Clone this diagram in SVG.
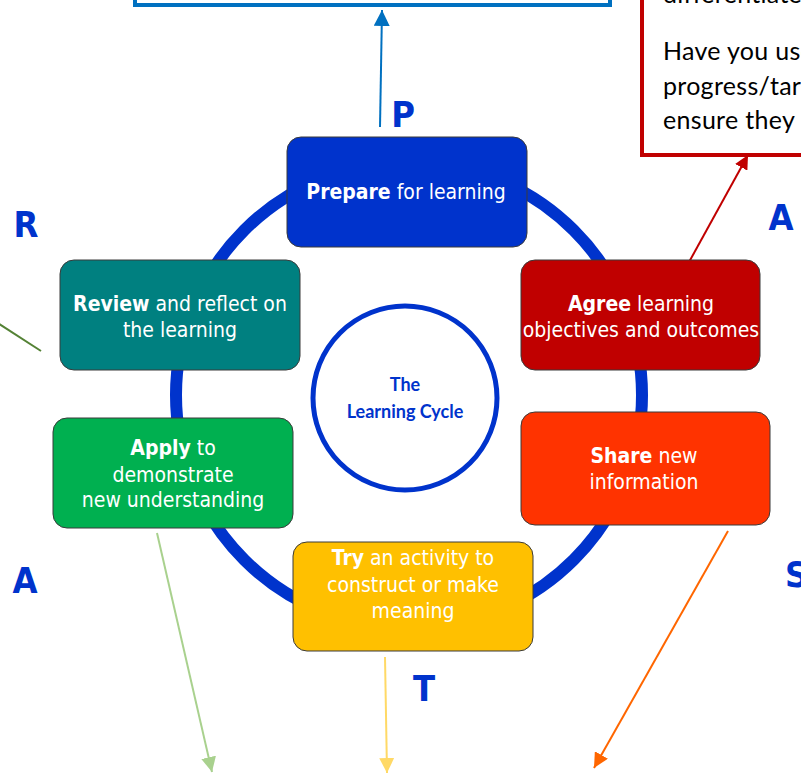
<svg xmlns="http://www.w3.org/2000/svg" width="801" height="773" viewBox="0 0 801 773">
<style>
.node{stroke:#3a3a3a;stroke-width:1}
.nt{font-family:"DejaVu Sans Condensed","DejaVu Sans",sans-serif;font-size:21px;fill:#ffffff;text-anchor:middle}
.b{font-weight:bold}
.let{font-family:"DejaVu Sans Condensed","DejaVu Sans",sans-serif;font-size:36px;font-weight:bold;fill:#0033CC}
.note{font-family:Lato,"Liberation Sans",sans-serif;font-size:25px;letter-spacing:0.3px;fill:#000000}
.ctr{font-family:Lato,"Liberation Sans",sans-serif;font-size:18px;font-weight:bold;fill:#0033CC;text-anchor:middle}
</style>
<defs>
<marker id="ab" viewBox="0 0 10 10" refX="10" refY="5" markerWidth="16" markerHeight="16" markerUnits="userSpaceOnUse" orient="auto"><path d="M0,0 L10,5 L0,10 z" fill="#0070C0"/></marker>
<marker id="ar" viewBox="0 0 10 10" refX="10" refY="5" markerWidth="14" markerHeight="14" markerUnits="userSpaceOnUse" orient="auto"><path d="M0,0 L10,5 L0,10 z" fill="#C00000"/></marker>
<marker id="ag" viewBox="0 0 10 10" refX="10" refY="5" markerWidth="15" markerHeight="15" markerUnits="userSpaceOnUse" orient="auto"><path d="M0,0 L10,5 L0,10 z" fill="#A9D18E"/></marker>
<marker id="ay" viewBox="0 0 10 10" refX="10" refY="5" markerWidth="15" markerHeight="15" markerUnits="userSpaceOnUse" orient="auto"><path d="M0,0 L10,5 L0,10 z" fill="#FFD966"/></marker>
<marker id="ao" viewBox="0 0 10 10" refX="10" refY="5" markerWidth="15" markerHeight="15" markerUnits="userSpaceOnUse" orient="auto"><path d="M0,0 L10,5 L0,10 z" fill="#FF6600"/></marker>
</defs>
<rect width="801" height="773" fill="#ffffff"/>

<g id="top-box">
<rect x="135" y="-50" width="475" height="55" fill="#ffffff" stroke="#0070C0" stroke-width="4"/>
</g>
<g id="note-box">
<rect x="642" y="-60" width="200" height="215" fill="#ffffff" stroke="#C00000" stroke-width="4"/>
<text class="note" x="663" y="3">differentiate</text>
<text class="note" x="663" y="60">Have you used</text>
<text class="note" x="663" y="95">progress/targets</text>
<text class="note" x="663" y="129">ensure they</text>
</g>

<g id="ring">
<circle cx="409" cy="395" r="233" fill="none" stroke="#0033CC" stroke-width="12"/>
</g>
<g id="centre">
<circle cx="405" cy="398" r="92" fill="#ffffff" stroke="#0033CC" stroke-width="5"/>
<text class="ctr" x="405" y="391">The</text>
<text class="ctr" x="405" y="418">Learning Cycle</text>
</g>

<g id="connectors">
<line x1="380" y1="127" x2="382" y2="10" stroke="#0070C0" stroke-width="2" marker-end="url(#ab)"/>
<line x1="683" y1="273" x2="748" y2="155" stroke="#C00000" stroke-width="2" marker-end="url(#ar)"/>
<line x1="-10" y1="318" x2="41" y2="351" stroke="#548235" stroke-width="2"/>
<line x1="157" y1="533" x2="212" y2="772" stroke="#A9D18E" stroke-width="2" marker-end="url(#ag)"/>
<line x1="385" y1="657" x2="387" y2="773" stroke="#FFD966" stroke-width="2" marker-end="url(#ay)"/>
<line x1="728" y1="531" x2="594" y2="768" stroke="#FF6600" stroke-width="2" marker-end="url(#ao)"/>
</g>

<g id="prepare">
<rect class="node" x="287" y="137" width="240" height="110" rx="14" fill="#0033CC"/>
<text class="nt" x="406" y="199"><tspan class="b">Prepare</tspan> for learning</text>
</g>
<g id="review">
<rect class="node" x="60" y="260" width="240" height="110" rx="14" fill="#008080"/>
<text class="nt" x="180" y="311"><tspan class="b">Review</tspan> and reflect on</text>
<text class="nt" x="180" y="337">the learning</text>
</g>
<g id="agree">
<rect class="node" x="521" y="260" width="239" height="110" rx="14" fill="#C00000"/>
<text class="nt" x="641" y="311"><tspan class="b">Agree</tspan> learning</text>
<text class="nt" x="641" y="337">objectives and outcomes</text>
</g>
<g id="apply">
<rect class="node" x="53" y="418" width="240" height="110" rx="14" fill="#00B050"/>
<text class="nt" x="173" y="455"><tspan class="b">Apply</tspan> to</text>
<text class="nt" x="173" y="482">demonstrate</text>
<text class="nt" x="173" y="507">new understanding</text>
</g>
<g id="share">
<rect class="node" x="521" y="412" width="249" height="113" rx="14" fill="#FF3300"/>
<text class="nt" x="644" y="463"><tspan class="b">Share</tspan> new</text>
<text class="nt" x="644" y="489">information</text>
</g>
<g id="try">
<rect class="node" x="293" y="542" width="240" height="109" rx="14" fill="#FFC000"/>
<text class="nt" x="413" y="565"><tspan class="b">Try</tspan> an activity to</text>
<text class="nt" x="413" y="592">construct or make</text>
<text class="nt" x="413" y="618">meaning</text>
</g>

<g id="letters">
<text class="let" x="403" y="127" text-anchor="middle">P</text>
<text class="let" x="781" y="230" text-anchor="middle">A</text>
<text class="let" x="26" y="237" text-anchor="middle">R</text>
<text class="let" x="25" y="593" text-anchor="middle">A</text>
<text class="let" x="785" y="587">S</text>
<text class="let" x="424" y="701" text-anchor="middle">T</text>
</g>
</svg>
